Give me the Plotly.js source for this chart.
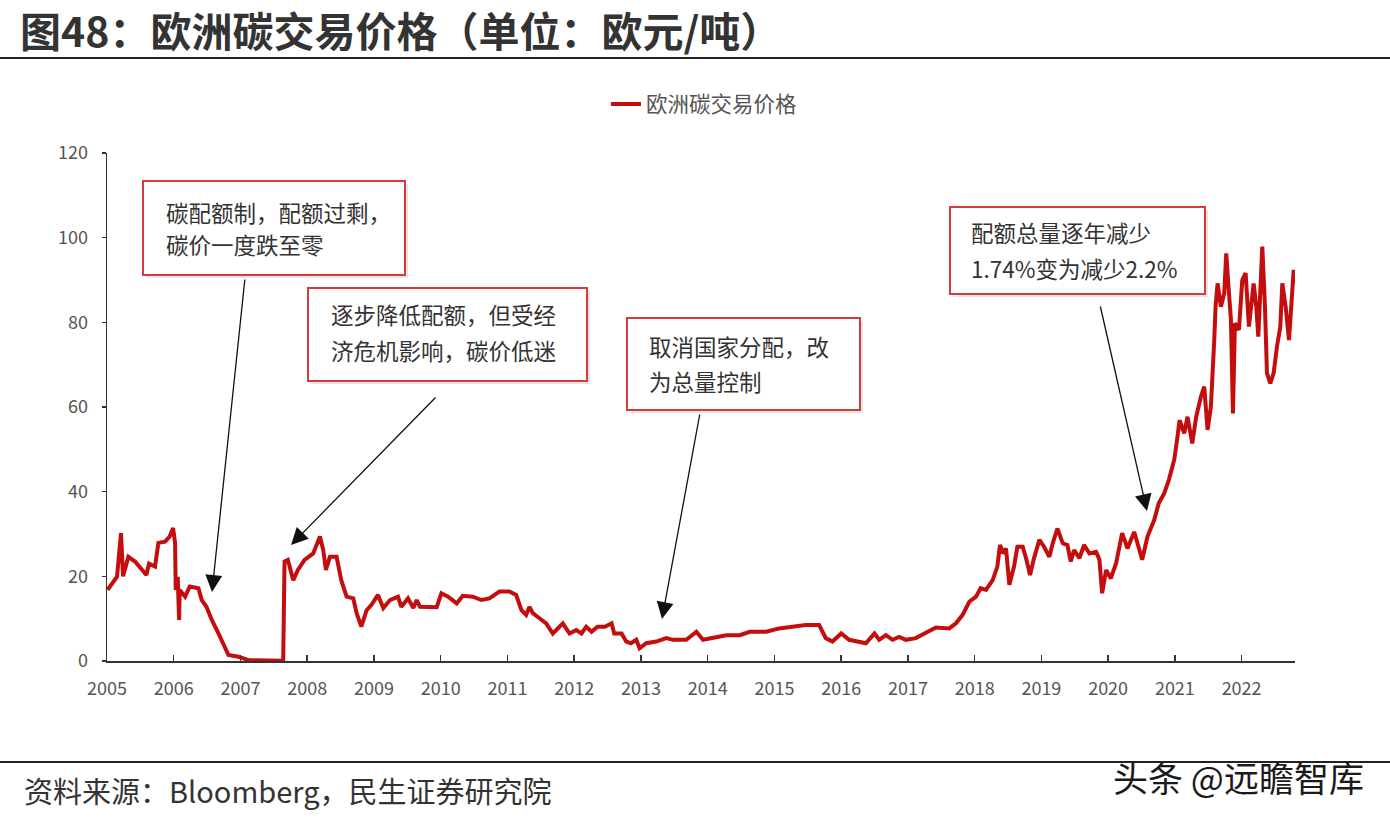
<!DOCTYPE html>
<html>
<head>
<meta charset="utf-8">
<script src="https://cdn.plot.ly/plotly-3.0.1.min.js"></script>
<style>
html,body{margin:0;padding:0;background:#fff;}
#chart{width:1390px;height:820px;}
</style>
</head>
<body>
<div id="chart"></div>
<script>
// ---- data (decimal year, EUR/t) ----
var years = [
2005.01,2005.15,2005.21,2005.24,2005.32,2005.42,2005.59,2005.63,2005.72,2005.77,2005.87,2005.94,2005.99,
2006.02,2006.03,2006.06,2006.08,2006.09,2006.17,2006.24,2006.37,2006.42,2006.49,2006.57,2006.67,2006.74,2006.82,2006.97,
2007.12,2007.62,2007.64,2007.66,2007.71,2007.79,2007.86,2007.96,
2008.09,2008.19,2008.24,2008.28,2008.34,2008.44,2008.51,2008.59,2008.69,2008.74,2008.81,2008.89,2008.96,
2009.06,2009.14,2009.24,2009.36,2009.41,2009.51,2009.59,2009.64,2009.69,2009.79,2009.94,
2010.01,2010.11,2010.24,2010.33,2010.48,2010.61,2010.73,2010.88,
2011.03,2011.13,2011.21,2011.28,2011.33,2011.38,2011.48,2011.58,2011.68,2011.78,2011.83,2011.93,
2012.03,2012.11,2012.18,2012.26,2012.35,2012.46,2012.56,2012.60,2012.71,2012.78,2012.85,2012.93,2012.98,
2013.08,2013.23,2013.38,2013.48,2013.68,2013.83,2013.93,
2014.08,2014.28,2014.48,2014.63,2014.88,
2015.07,2015.27,2015.47,2015.67,2015.77,2015.87,
2016.00,2016.12,2016.27,2016.37,2016.50,2016.57,2016.67,2016.77,2016.87,2016.97,
2017.12,2017.32,2017.42,2017.62,2017.72,2017.82,2017.92,
2018.02,2018.09,2018.17,2018.27,2018.34,2018.38,2018.43,2018.47,2018.52,2018.59,2018.64,2018.72,2018.77,2018.83,2018.89,2018.97,
2019.04,2019.12,2019.17,2019.24,2019.32,2019.39,2019.44,2019.49,2019.57,2019.64,2019.72,2019.82,2019.87,2019.91,2019.97,
2020.04,2020.12,2020.21,2020.29,2020.39,2020.44,2020.51,2020.59,2020.69,2020.76,2020.84,2020.91,2020.99,
2021.04,2021.07,2021.14,2021.19,2021.26,2021.32,2021.39,2021.44,2021.49,2021.54,2021.59,2021.61,2021.64,2021.69,2021.74,2021.77,2021.80,2021.84,2021.87,2021.90,2021.96,
2022.01,2022.06,2022.11,2022.18,2022.22,2022.25,2022.31,2022.35,2022.38,2022.43,2022.48,2022.53,2022.58,2022.61,2022.66,2022.71,2022.75,2022.78,2022.80
];
var prices = [
16.8,19.9,30.2,20.0,24.6,23.5,20.3,23.0,22.3,27.9,28.2,29.4,31.4,
27.9,16.8,19.9,9.7,16.8,15.2,17.6,17.2,14.4,12.8,9.7,6.5,4.2,1.4,1.0,
0.2,0.05,0.05,23.5,23.9,19.1,21.5,23.9,
25.4,29.4,26.2,21.5,24.6,24.6,19.1,15.2,14.8,11.3,8.1,12.0,13.2,
15.6,12.5,14.4,15.2,12.8,14.8,12.5,14.4,12.8,12.7,12.7,
16.0,15.2,13.6,15.4,15.2,14.4,14.8,16.4,
16.4,15.6,12.0,10.9,12.8,11.3,10.1,8.9,6.5,8.1,8.9,6.5,
7.3,6.5,8.1,6.9,8.1,8.1,8.9,6.5,6.5,4.6,4.2,5.0,3.0,
4.2,4.6,5.4,5.0,5.0,6.9,5.0,
5.4,6.1,6.1,6.9,6.9,
7.7,8.1,8.5,8.5,5.4,4.6,
6.5,5.0,4.6,4.2,6.5,5.0,6.1,5.0,5.7,5.0,
5.4,6.9,7.9,7.7,8.9,10.9,14.0,
15.2,17.2,16.8,19.1,22.3,27.4,25.4,26.6,18.0,22.3,27.0,27.0,24.3,20.3,24.3,28.6,
27.0,24.6,27.8,31.3,27.8,27.4,23.5,26.2,24.3,27.4,25.4,25.8,23.9,16.0,21.5,
19.5,23.1,30.2,26.6,30.5,27.8,23.9,29.4,33.3,37.3,39.6,42.8,47.5,
53.0,56.9,53.8,57.7,51.4,57.7,62.4,64.8,54.6,60.1,75.8,83.7,89.2,83.7,86.9,96.3,89.2,80.6,58.5,79.8,78.2,
90.0,91.6,79.0,89.2,83.7,76.6,97.9,83.7,68.0,65.6,68.0,74.3,79.0,89.2,83.7,75.8,83.7,92.4,89.2
];
var tickYears = [2005,2006,2007,2008,2009,2010,2011,2012,2013,2014,2015,2016,2017,2018,2019,2020,2021,2022];
var tickLabels = ["2005","2006","2007","2008","2009","2010","2011","2012","2013","2014","2015","2016","2017","2018","2019","2020","2021","2022"];
var seriesName = "欧洲碳交易价格";
var chartTitle = "图48：欧洲碳交易价格（单位：欧元/吨）";
var sourceText = "资料来源：Bloomberg，民生证券研究院";
var watermark = "头条 @远瞻智库";
var noteLines = [
  ["碳配额制，配额过剩，", "碳价一度跌至零"],
  ["逐步降低配额，但受经", "济危机影响，碳价低迷"],
  ["取消国家分配，改", "为总量控制"],
  ["配额总量逐年减少", "1.74%变为减少2.2%"]
];

// ---- layout helpers (pixel -> paper) ----
var L = 107, R = 1295, T = 153, B = 661;
function px(x){ return (x - L) / (R - L); }
function py(y){ return (B - y) / (B - T); }

var FONT = '"Noto Sans CJK SC", "Noto Sans", sans-serif';

// box rectangles [x0,y0,x1,y1] in page pixels
var boxes = [[143,181,405,275],[308,288,587,381],[627,318,860,410],[950,207,1205,294]];
var textPos = [[164,212,244],[329,314,350],[647,346,381],[969,232,268]];
// arrows: [tipX, tipY, startX, startY]
var arrows = [[212,592,245,278],[291,545,437,396],[662,619,700,413],[1147,511,1100,305]];

var shapes = [];
var annotations = [];
boxes.forEach(function(b){
  shapes.push({type:'rect', xref:'paper', yref:'paper', x0:px(b[0]+3), x1:px(b[2]+3), y0:py(b[3]+3), y1:py(b[1]+3),
    line:{width:0}, fillcolor:'rgba(0,0,0,0.10)', layer:'above'});
  shapes.push({type:'rect', xref:'paper', yref:'paper', x0:px(b[0]), x1:px(b[2]), y0:py(b[3]), y1:py(b[1]),
    line:{color:'#d23c3c', width:2}, fillcolor:'#ffffff', layer:'above'});
});
noteLines.forEach(function(lines, i){
  var p = textPos[i];
  lines.forEach(function(t, j){
    annotations.push({xref:'paper', yref:'paper', x:px(p[0]), y:py(p[1+j]), xanchor:'left', yanchor:'middle',
      text:t, showarrow:false, font:{family:FONT, size:22.5, color:'#333333'}});
  });
});
arrows.forEach(function(a){
  annotations.push({xref:'paper', yref:'paper', x:px(a[0]), y:py(a[1]), ax:a[2]-a[0], ay:a[3]-a[1],
    axref:'pixel', ayref:'pixel', text:'', showarrow:true, arrowhead:2, arrowsize:2.6, arrowwidth:1.3,
    arrowcolor:'#111111', standoff:0});
});
// header rule and footer rule
shapes.push({type:'line', xref:'paper', yref:'paper', x0:px(0), x1:px(1390), y0:py(58), y1:py(58), line:{color:'#222222', width:2}});
shapes.push({type:'line', xref:'paper', yref:'paper', x0:px(0), x1:px(1390), y0:py(762), y1:py(762), line:{color:'#222222', width:2}});
// footer texts
annotations.push({xref:'paper', yref:'paper', x:px(22), y:py(790), xanchor:'left', yanchor:'middle', showarrow:false,
  text:sourceText, font:{family:FONT, size:29, color:'#333333'}});
annotations.push({xref:'paper', yref:'paper', x:px(1366), y:py(776), xanchor:'right', yanchor:'middle', showarrow:false,
  text:watermark, font:{family:FONT, size:35, color:'#1a1a1a'}});

var trace = {
  x: years, y: prices, type:'scatter', mode:'lines', name: seriesName,
  line:{color:'#c40d0d', width:4, shape:'linear'}
};

var layout = {
  width:1390, height:820,
  paper_bgcolor:'#ffffff', plot_bgcolor:'#ffffff',
  margin:{l:L, r:1390-R, t:T, b:820-B, pad:0},
  font:{family:FONT, color:'#555555'},
  title:{text:'<b>'+chartTitle+'</b>', x:20/1390, xanchor:'left', xref:'container',
    y:1-33/820, yanchor:'middle', yref:'container', font:{family:FONT, size:41, color:'#333333'}},
  showlegend:true,
  legend:{orientation:'h', x:px(606), xanchor:'left', y:py(104), yanchor:'middle',
    font:{family:FONT, size:21.5, color:'#555555'}, bgcolor:'rgba(0,0,0,0)'},
  xaxis:{type:'linear', range:[2005, 2022.8], tickmode:'array', tickvals:tickYears, ticktext:tickLabels,
    showgrid:false, zeroline:false, showline:true, linecolor:'#333333', linewidth:1.5,
    ticks:'inside', ticklen:6, tickwidth:1.5, tickcolor:'#333333',
    tickfont:{family:FONT, size:18, color:'#555555'}, ticklabelstandoff:11, fixedrange:true},
  yaxis:{range:[0,120], tickmode:'array', tickvals:[0,20,40,60,80,100,120],
    showgrid:false, zeroline:false, showline:true, linecolor:'#333333', linewidth:1.5,
    ticks:'outside', ticklen:4, tickwidth:1.2, tickcolor:'#333333',
    tickfont:{family:FONT, size:18, color:'#555555'}, ticklabelstandoff:10, fixedrange:true},
  shapes: shapes,
  annotations: annotations
};

Plotly.newPlot('chart', [trace], layout, {displayModeBar:false, staticPlot:true});
</script>
</body>
</html>
